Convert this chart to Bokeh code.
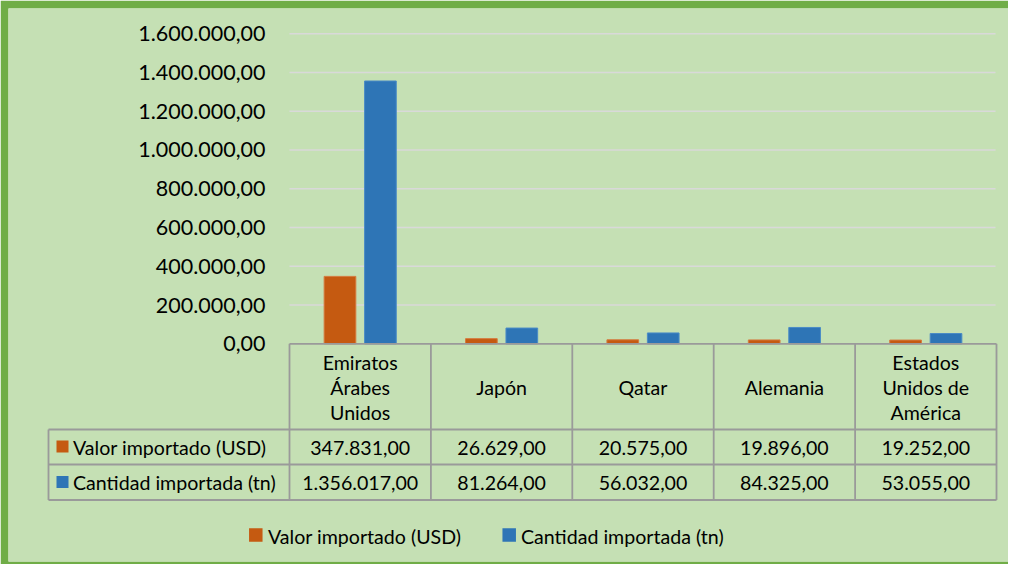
from bokeh.plotting import figure
from bokeh.models import Range1d, ColumnDataSource
from bokeh.core.properties import value
from bokeh.embed import file_html
from bokeh.resources import INLINE

# ---------------- data ----------------
categories = ["Emiratos\nÁrabes\nUnidos", "Japón", "Qatar", "Alemania", "Estados\nUnidos de\nAmérica"]
valor_importado = [347831.00, 26629.00, 20575.00, 19896.00, 19252.00]
cantidad_importada = [1356017.00, 81264.00, 56032.00, 84325.00, 53055.00]
series_names = ["Valor importado (USD)", "Cantidad importada (tn)"]
y_ticks = [0, 200000, 400000, 600000, 800000, 1000000, 1200000, 1400000, 1600000]
y_tick_labels = ["0,00", "200.000,00", "400.000,00", "600.000,00", "800.000,00",
                 "1.000.000,00", "1.200.000,00", "1.400.000,00", "1.600.000,00"]

# ---------------- styles ----------------
ORANGE = "#C55A11"
BLUE = "#2E75B6"
BG = "#C5E0B4"
FRAME_GREEN = "#70AD47"
GRID = "#D9D9D9"
TABLE_LINE = "#9A9A9A"
TEXT = "#000000"
FONT = value("Lato")
TABLE_FS = "19.6px"


def fmt(v):
    s = f"{v:,.2f}"
    return s.replace(",", "X").replace(".", ",").replace("X", ".")


# page-pixel helpers (layout only; the bars use the data values)
X0_PX, SLOT_PX = 297.0, 141.4
Y0_PX, PX_PER_MAX = 351.3, 310.1
Y_MAX = 1600000.0


def dx(px):
    return (px - X0_PX) / SLOT_PX


def dy(py):
    return (Y0_PX - py) * Y_MAX / PX_PER_MAX


n = len(categories)
p = figure(width=1008, height=564, output_backend="svg", toolbar_location=None, tools="",
           x_axis_type=None, y_axis_type=None,
           x_range=Range1d(dx(16), dx(1016)), y_range=Range1d(dy(569), dy(16)),
           min_border_left=8, min_border_top=8, min_border_right=0, min_border_bottom=3,
           border_fill_color=FRAME_GREEN, background_fill_color=BG, outline_line_color=None)

# gridlines
grid_y = [t for t in y_ticks if t > 0]
p.segment(x0=[dx(297)] * len(grid_y), x1=[dx(1003)] * len(grid_y), y0=grid_y, y1=grid_y,
          line_color=GRID, line_width=1.5)

# y tick labels
p.text(x=[dx(273)] * len(y_ticks), y=y_ticks, text=y_tick_labels, text_align="right",
       text_baseline="middle", text_font=FONT, text_font_size="21.5px", text_color=TEXT)

# bars
off, bw = 0.143, 0.224
src = ColumnDataSource(dict(
    xo=[i + 0.5 - off for i in range(n)], xb=[i + 0.5 + off for i in range(n)],
    valor=valor_importado, cantidad=cantidad_importada))
p.vbar(x="xo", top="valor", bottom=0, width=bw, source=src, fill_color=ORANGE,
       line_color="#D57A3E", line_width=1)
p.vbar(x="xb", top="cantidad", bottom=0, width=bw, source=src, fill_color=BLUE,
       line_color="#4A8BC6", line_width=1)

# data table lines
col_edges = [i for i in range(n + 1)]
y_head_bot, y_r1_bot, y_r2_bot = dy(437), dy(472), dy(507.5)
hx0 = [0, dx(56), dx(56), dx(56)]
hx1 = [n, n, n, n]
hy = [0, y_head_bot, y_r1_bot, y_r2_bot]
vx = col_edges + [dx(56)]
vy0 = [0] * (n + 1) + [y_head_bot]
vy1 = [y_r2_bot] * (n + 2)
p.segment(x0=hx0, x1=hx1, y0=hy, y1=hy, line_color=TABLE_LINE, line_width=1.8)
p.segment(x0=vx, x1=vx, y0=vy0, y1=vy1, line_color=TABLE_LINE, line_width=1.8)

# header (category names)
p.text(x=[i + 0.5 for i in range(n)], y=[dy(395)] * n, text=categories, text_align="center",
       text_baseline="middle", text_font=FONT, text_font_size=TABLE_FS, text_color=TEXT,
       text_line_height=1.08)

# table values
p.text(x=[i + 0.5 for i in range(n)], y=[dy(455)] * n, text=[fmt(v) for v in valor_importado],
       text_align="center", text_baseline="middle", text_font=FONT, text_font_size=TABLE_FS,
       text_color=TEXT)
p.text(x=[i + 0.5 for i in range(n)], y=[dy(490)] * n, text=[fmt(v) for v in cantidad_importada],
       text_align="center", text_baseline="middle", text_font=FONT, text_font_size=TABLE_FS,
       text_color=TEXT)

# table row legend keys
p.scatter(x=[dx(70), dx(70)], y=[dy(454), dy(489.5)], marker="square", size=12,
          fill_color=[ORANGE, BLUE], line_color=None)
p.text(x=[dx(80.5), dx(80.5)], y=[dy(455), dy(490)], text=series_names, text_align="left",
       text_baseline="middle", text_font=FONT, text_font_size=TABLE_FS, text_color=TEXT)

# bottom legend
p.scatter(x=[dx(263.3), dx(516.7)], y=[dy(542.5), dy(542.5)], marker="square", size=13.5,
          fill_color=[ORANGE, BLUE], line_color=None)
p.text(x=[dx(275.5), dx(528.5)], y=[dy(544), dy(544)], text=series_names, text_align="left",
       text_baseline="middle", text_font=FONT, text_font_size=TABLE_FS, text_color=TEXT)

open("out.html", "w").write(file_html(p, INLINE))
